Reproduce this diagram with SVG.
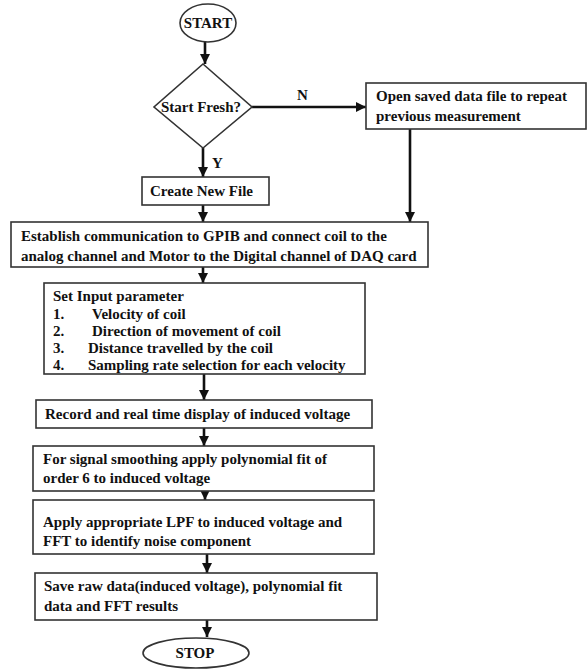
<svg xmlns="http://www.w3.org/2000/svg" width="587" height="669" viewBox="0 0 587 669">
<defs>
<marker id="ah" viewBox="0 0 10 10" refX="10" refY="5" markerWidth="10" markerHeight="10" markerUnits="userSpaceOnUse" orient="auto">
<path d="M0,0 L10,5 L0,10 z" fill="#111"/>
</marker>
<style>
.b{fill:#fff;stroke:#333;stroke-width:1.6}
.t{font-family:"Liberation Serif","Times New Roman",serif;font-weight:bold;font-size:15px;fill:#111}
.c{stroke:#111;stroke-width:2.6;fill:none}
</style>
</defs>
<rect width="587" height="669" fill="#fff"/>
<g id="connectors">
<line class="c" x1="205" y1="42" x2="205" y2="64" marker-end="url(#ah)"/>
<line class="c" x1="252" y1="107" x2="366" y2="107" marker-end="url(#ah)"/>
<line class="c" x1="203" y1="148" x2="203" y2="177" marker-end="url(#ah)"/>
<line class="c" x1="203" y1="205" x2="203" y2="222" marker-end="url(#ah)"/>
<line class="c" x1="410" y1="129" x2="410" y2="222" marker-end="url(#ah)"/>
<line class="c" x1="203" y1="267" x2="203" y2="283" marker-end="url(#ah)"/>
<line class="c" x1="204" y1="374" x2="204" y2="400" marker-end="url(#ah)"/>
<line class="c" x1="204" y1="428" x2="204" y2="446" marker-end="url(#ah)"/>
<line class="c" x1="205" y1="491" x2="205" y2="500" marker-end="url(#ah)"/>
<line class="c" x1="207" y1="554" x2="207" y2="573" marker-end="url(#ah)"/>
<line class="c" x1="207" y1="620" x2="207" y2="637" marker-end="url(#ah)"/>
<text class="t" x="297" y="100">N</text>
<text class="t" x="212" y="168">Y</text>
</g>
<g id="start">
<ellipse class="b" cx="208" cy="23" rx="28" ry="19"/>
<text class="t" x="208" y="28" text-anchor="middle" font-size="14">START</text>
</g>
<g id="decision">
<polygon class="b" points="203,64 252,107 203,148 154,107"/>
<text class="t" x="201" y="112" text-anchor="middle">Start Fresh?</text>
</g>
<g id="open">
<rect class="b" x="366" y="83" width="220" height="46"/>
<text class="t" x="376" y="101">Open saved data  file to repeat</text>
<text class="t" x="376" y="121">previous measurement</text>
</g>
<g id="create">
<rect class="b" x="142" y="177" width="127" height="28"/>
<text class="t" x="150" y="196">Create New File</text>
</g>
<g id="establish">
<rect class="b" x="11" y="222" width="417" height="45"/>
<text class="t" x="21" y="241">Establish communication  to GPIB and connect coil to the</text>
<text class="t" x="21" y="261">analog channel and Motor to the Digital channel of DAQ card</text>
</g>
<g id="params">
<rect class="b" x="44" y="283" width="321" height="91"/>
<text class="t" x="53" y="301">Set Input  parameter</text>
<text class="t" x="53" y="319">1.</text><text class="t" x="92" y="319">Velocity of coil</text>
<text class="t" x="53" y="336">2.</text><text class="t" x="92" y="336">Direction  of movement  of coil</text>
<text class="t" x="53" y="353">3.</text><text class="t" x="88" y="353">Distance travelled by the coil</text>
<text class="t" x="53" y="370">4.</text><text class="t" x="88" y="370">Sampling  rate selection for  each velocity</text>
</g>
<g id="record">
<rect class="b" x="36" y="400" width="336" height="28"/>
<text class="t" x="45" y="419">Record and real time display of induced  voltage</text>
</g>
<g id="smooth">
<rect class="b" x="33" y="446" width="341" height="45"/>
<text class="t" x="43" y="464">For signal smoothing  apply polynomial  fit  of</text>
<text class="t" x="43" y="483">order  6 to induced  voltage</text>
</g>
<g id="lpf">
<rect class="b" x="33" y="500" width="341" height="54"/>
<text class="t" x="43" y="527">Apply  appropriate   LPF to induced  voltage and</text>
<text class="t" x="43" y="546">FFT  to identify  noise component</text>
</g>
<g id="save">
<rect class="b" x="35" y="573" width="342" height="47"/>
<text class="t" x="44" y="591">Save raw  data(induced  voltage), polynomial  fit</text>
<text class="t" x="44" y="611">data and  FFT  results</text>
</g>
<g id="stop">
<ellipse class="b" cx="196" cy="653" rx="53" ry="15"/>
<text class="t" x="195" y="658" text-anchor="middle">STOP</text>
</g>
</svg>
